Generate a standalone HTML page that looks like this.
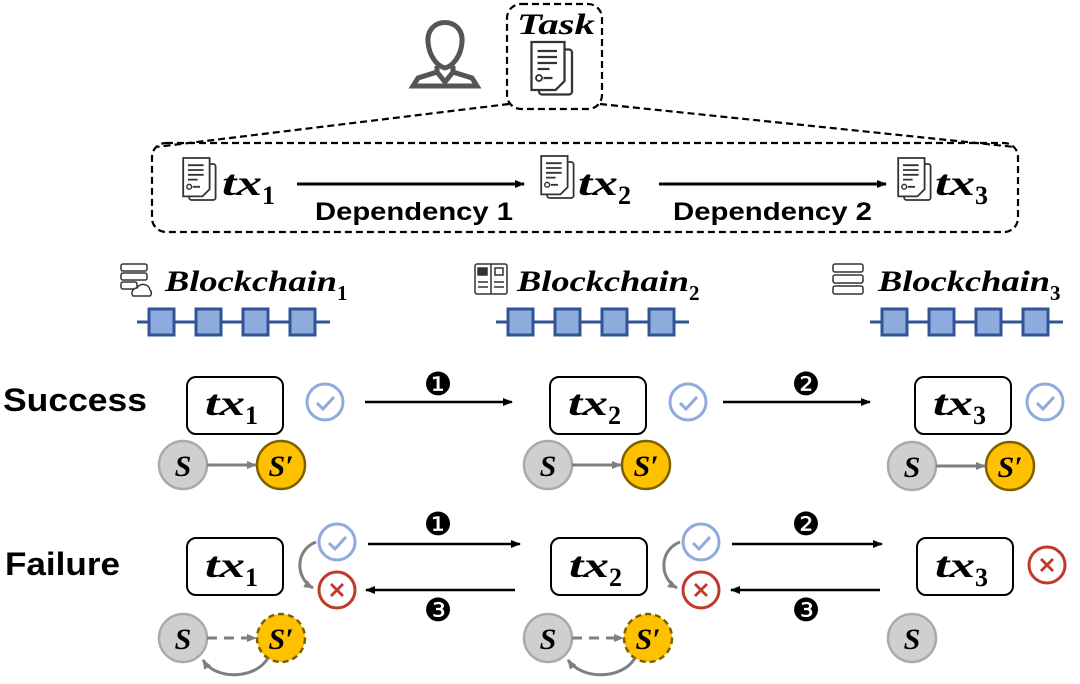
<!DOCTYPE html>
<html><head><meta charset="utf-8"><style>
html,body{margin:0;padding:0;background:#fff;}
svg{display:block;}
.m{font-family:"Liberation Serif",serif;font-style:italic;font-weight:bold;}
.n{font-style:normal;}
.s{font-family:"Liberation Sans",sans-serif;font-weight:bold;}
</style></head><body>
<svg width="1080" height="684" viewBox="0 0 1080 684" xmlns="http://www.w3.org/2000/svg">
<defs>
<marker id="ab" markerWidth="10" markerHeight="8" refX="9" refY="4" orient="auto" markerUnits="userSpaceOnUse"><path d="M0,0 L10,4 L0,8 Z" fill="#000"/></marker>
<marker id="ag" markerWidth="10" markerHeight="8" refX="9" refY="4" orient="auto" markerUnits="userSpaceOnUse"><path d="M0,0 L10,4 L0,8 Z" fill="#7f7f7f"/></marker>
<g id="doc">
<rect x="6" y="5" width="22" height="30" rx="2" fill="#fff" stroke="#333" stroke-width="1.5"/>
<path d="M1,0 h22 v26 l-6,6 h-16 z" fill="#fff" stroke="#333" stroke-width="1.5"/>
<path d="M5,6 h13 M5,10 h13 M5,14 h13 M5,18 h8 M9,24 h6" stroke="#333" stroke-width="1.5"/>
<circle cx="6" cy="24" r="2" fill="none" stroke="#333" stroke-width="1.2"/>
</g>
<g id="chain">
<line x1="0" y1="0" x2="193" y2="0" stroke="#2f5597" stroke-width="3"/>
<rect x="12" y="-13" width="25" height="26" fill="#8faadc" stroke="#2f5597" stroke-width="3"/>
<rect x="59" y="-13" width="25" height="26" fill="#8faadc" stroke="#2f5597" stroke-width="3"/>
<rect x="106" y="-13" width="25" height="26" fill="#8faadc" stroke="#2f5597" stroke-width="3"/>
<rect x="153" y="-13" width="25" height="26" fill="#8faadc" stroke="#2f5597" stroke-width="3"/>
</g>
<g id="chk"><circle r="18" fill="#fff" stroke="#8faadc" stroke-width="3"/><path d="M-8,1 L-2,7 L9,-5" fill="none" stroke="#8faadc" stroke-width="3"/></g>
<g id="crs"><circle r="18" fill="#fff" stroke="#c0392b" stroke-width="3"/><path d="M-6,-6 L6,6 M6,-6 L-6,6" stroke="#c0392b" stroke-width="2.8"/></g>
</defs>

<!-- person -->
<g fill="none" stroke="#555" stroke-width="5">
<path d="M428,42 C426,16 464,16 462,42 C461,56 453,66 445,68 C437,66 429,56 428,42 Z"/>
<path d="M437,66 L437,72 L418,78 L413,86 L477,86 L472,78 L453,72 L453,66"/>
<path d="M437,72 L445,82 L453,72"/>
</g>
<!-- task box -->
<rect x="507" y="4" width="95" height="105" rx="14" fill="none" stroke="#000" stroke-width="2.2" stroke-dasharray="7,4"/>
<text x="517" y="34" class="m" font-size="30" textLength="78" lengthAdjust="spacingAndGlyphs">Task</text>
<g transform="translate(530,42) scale(1.5)"><use href="#doc"/></g>
<path d="M509,104 L156,147 M600,104 L1015,147" stroke="#000" stroke-width="2.2" stroke-dasharray="7,4"/>
<rect x="152" y="143" width="866" height="89" rx="14" fill="none" stroke="#000" stroke-width="2.2" stroke-dasharray="7,4"/>

<g transform="translate(182,158) scale(1.2)"><use href="#doc"/></g>
<text x="222" y="195" class="m" font-size="36"><tspan textLength="40" lengthAdjust="spacingAndGlyphs">tx</tspan><tspan class="n" font-size="26" dy="9">1</tspan></text>
<line x1="297" y1="184" x2="524" y2="184" stroke="#000" stroke-width="3" marker-end="url(#ab)"/>
<text x="315" y="220" class="s" font-size="25" textLength="198" lengthAdjust="spacingAndGlyphs">Dependency 1</text>
<g transform="translate(540,156) scale(1.2)"><use href="#doc"/></g>
<text x="578" y="195" class="m" font-size="36"><tspan textLength="40" lengthAdjust="spacingAndGlyphs">tx</tspan><tspan class="n" font-size="26" dy="9">2</tspan></text>
<line x1="659" y1="184" x2="886" y2="184" stroke="#000" stroke-width="3" marker-end="url(#ab)"/>
<text x="673" y="220" class="s" font-size="25" textLength="199" lengthAdjust="spacingAndGlyphs">Dependency 2</text>
<g transform="translate(897,158) scale(1.2)"><use href="#doc"/></g>
<text x="935" y="195" class="m" font-size="36"><tspan textLength="40" lengthAdjust="spacingAndGlyphs">tx</tspan><tspan class="n" font-size="26" dy="9">3</tspan></text>

<!-- blockchains -->
<g stroke="#333" stroke-width="1.5" fill="#fff">
<rect x="121" y="264" width="26" height="7" rx="2"/><rect x="121" y="273" width="26" height="7" rx="2"/><rect x="121" y="282" width="16" height="7" rx="2"/>
<path d="M133,296 a5,5 0 0 1 4,-8 a7,7 0 0 1 13,2 a4,4 0 0 1 0,6 z"/>
<rect x="475" y="264" width="32" height="30" rx="2"/><line x1="491" y1="264" x2="491" y2="294"/>
<rect x="478" y="268" width="9" height="7" fill="#333"/><rect x="495" y="268" width="8" height="7"/>
<path d="M478,282 h10 M478,287 h10 M494,282 h10 M494,287 h10"/>
<rect x="833" y="264" width="30" height="8" rx="2"/><rect x="833" y="275" width="30" height="8" rx="2"/><rect x="833" y="286" width="30" height="8" rx="2"/>
</g>
<text x="165" y="291" class="m" font-size="30"><tspan textLength="172" lengthAdjust="spacingAndGlyphs">Blockchain</tspan><tspan class="n" font-size="21" dy="9">1</tspan></text>
<text x="517" y="291" class="m" font-size="30"><tspan textLength="172" lengthAdjust="spacingAndGlyphs">Blockchain</tspan><tspan class="n" font-size="21" dy="9">2</tspan></text>
<text x="878" y="291" class="m" font-size="30"><tspan textLength="172" lengthAdjust="spacingAndGlyphs">Blockchain</tspan><tspan class="n" font-size="21" dy="9">3</tspan></text>
<use href="#chain" transform="translate(137,322)"/>
<use href="#chain" transform="translate(496,322)"/>
<use href="#chain" transform="translate(870,322)"/>

<!-- Success -->
<text x="3" y="411" class="s" font-size="32" textLength="144" lengthAdjust="spacingAndGlyphs">Success</text>
<g class="m" font-size="36">
<rect x="187" y="377" width="96" height="57" rx="9" fill="#fff" stroke="#000" stroke-width="2"/>
<text x="205" y="415"><tspan textLength="40" lengthAdjust="spacingAndGlyphs">tx</tspan><tspan class="n" font-size="26" dy="9">1</tspan></text>
<rect x="550" y="377" width="96" height="57" rx="9" fill="#fff" stroke="#000" stroke-width="2"/>
<text x="568" y="415"><tspan textLength="40" lengthAdjust="spacingAndGlyphs">tx</tspan><tspan class="n" font-size="26" dy="9">2</tspan></text>
<rect x="915" y="377" width="96" height="57" rx="9" fill="#fff" stroke="#000" stroke-width="2"/>
<text x="933" y="415"><tspan textLength="40" lengthAdjust="spacingAndGlyphs">tx</tspan><tspan class="n" font-size="26" dy="9">3</tspan></text>
</g>
<use href="#chk" transform="translate(325,402)"/>
<use href="#chk" transform="translate(688,402)"/>
<use href="#chk" transform="translate(1045,402)"/>
<line x1="365" y1="402" x2="512" y2="402" stroke="#000" stroke-width="2.5" marker-end="url(#ab)"/>
<line x1="723" y1="402" x2="870" y2="402" stroke="#000" stroke-width="2.5" marker-end="url(#ab)"/>
<g font-family="DejaVu Sans,sans-serif" font-size="32" text-anchor="middle">
<text x="438" y="395">❶</text><text x="806" y="395">❷</text>
</g>

<g class="m" font-size="30" text-anchor="middle">
<g>
<circle cx="183" cy="465" r="24" fill="#d0cece" stroke="#aaa" stroke-width="2.5"/>
<circle cx="281" cy="465" r="24" fill="#ffc000" stroke="#7f6000" stroke-width="2.5"/>
<line x1="207" y1="465" x2="256" y2="465" stroke="#7f7f7f" stroke-width="3" marker-end="url(#ag)"/>
<text x="183" y="476">S</text><text x="281" y="476">S′</text>
</g>
<g>
<circle cx="548" cy="465" r="24" fill="#d0cece" stroke="#aaa" stroke-width="2.5"/>
<circle cx="646" cy="465" r="24" fill="#ffc000" stroke="#7f6000" stroke-width="2.5"/>
<line x1="572" y1="465" x2="621" y2="465" stroke="#7f7f7f" stroke-width="3" marker-end="url(#ag)"/>
<text x="548" y="476">S</text><text x="646" y="476">S′</text>
</g>
<g>
<circle cx="912" cy="466" r="24" fill="#d0cece" stroke="#aaa" stroke-width="2.5"/>
<circle cx="1010" cy="466" r="24" fill="#ffc000" stroke="#7f6000" stroke-width="2.5"/>
<line x1="936" y1="466" x2="985" y2="466" stroke="#7f7f7f" stroke-width="3" marker-end="url(#ag)"/>
<text x="912" y="477">S</text><text x="1010" y="477">S′</text>
</g>
<g>
<circle cx="183" cy="638" r="24" fill="#d0cece" stroke="#aaa" stroke-width="2.5"/>
<circle cx="281" cy="638" r="24" fill="#ffc000" stroke="#7f6000" stroke-width="2.5" stroke-dasharray="6,4"/>
<line x1="207" y1="638" x2="256" y2="638" stroke="#7f7f7f" stroke-width="3" stroke-dasharray="10,7" marker-end="url(#ag)"/>
<path d="M268,658 C255,680 215,680 203,660" fill="none" stroke="#7f7f7f" stroke-width="3" marker-end="url(#ag)"/>
<text x="183" y="649">S</text><text x="281" y="649">S′</text>
</g>
<g>
<circle cx="548" cy="638" r="24" fill="#d0cece" stroke="#aaa" stroke-width="2.5"/>
<circle cx="648" cy="638" r="24" fill="#ffc000" stroke="#7f6000" stroke-width="2.5" stroke-dasharray="6,4"/>
<line x1="572" y1="638" x2="623" y2="638" stroke="#7f7f7f" stroke-width="3" stroke-dasharray="10,7" marker-end="url(#ag)"/>
<path d="M635,658 C622,680 582,680 568,660" fill="none" stroke="#7f7f7f" stroke-width="3" marker-end="url(#ag)"/>
<text x="548" y="649">S</text><text x="648" y="649">S′</text>
</g>
<circle cx="912" cy="638" r="24" fill="#d0cece" stroke="#aaa" stroke-width="2.5"/>
<text x="912" y="649">S</text>
</g>

<!-- Failure -->
<text x="5" y="575" class="s" font-size="32" textLength="115" lengthAdjust="spacingAndGlyphs">Failure</text>
<g class="m" font-size="36">
<rect x="187" y="538" width="96" height="57" rx="9" fill="#fff" stroke="#000" stroke-width="2"/>
<text x="205" y="577"><tspan textLength="40" lengthAdjust="spacingAndGlyphs">tx</tspan><tspan class="n" font-size="26" dy="9">1</tspan></text>
<rect x="551" y="538" width="96" height="57" rx="9" fill="#fff" stroke="#000" stroke-width="2"/>
<text x="569" y="577"><tspan textLength="40" lengthAdjust="spacingAndGlyphs">tx</tspan><tspan class="n" font-size="26" dy="9">2</tspan></text>
<rect x="917" y="538" width="96" height="57" rx="9" fill="#fff" stroke="#000" stroke-width="2"/>
<text x="935" y="577"><tspan textLength="40" lengthAdjust="spacingAndGlyphs">tx</tspan><tspan class="n" font-size="26" dy="9">3</tspan></text>
</g>
<path d="M316,542 C295,550 295,578 313,588" fill="none" stroke="#7f7f7f" stroke-width="3" marker-end="url(#ag)"/>
<path d="M680,542 C659,550 659,578 677,588" fill="none" stroke="#7f7f7f" stroke-width="3" marker-end="url(#ag)"/>
<use href="#chk" transform="translate(337,542)"/>
<use href="#crs" transform="translate(337,590)"/>
<use href="#chk" transform="translate(701,542)"/>
<use href="#crs" transform="translate(701,590)"/>
<use href="#crs" transform="translate(1047,565)"/>
<line x1="368" y1="544" x2="520" y2="544" stroke="#000" stroke-width="2.5" marker-end="url(#ab)"/>
<line x1="515" y1="590" x2="366" y2="590" stroke="#000" stroke-width="2.5" marker-end="url(#ab)"/>
<line x1="732" y1="544" x2="882" y2="544" stroke="#000" stroke-width="2.5" marker-end="url(#ab)"/>
<line x1="880" y1="590" x2="731" y2="590" stroke="#000" stroke-width="2.5" marker-end="url(#ab)"/>
<g font-family="DejaVu Sans,sans-serif" font-size="32" text-anchor="middle">
<text x="438" y="535">❶</text><text x="438" y="621">❸</text>
<text x="806" y="535">❷</text><text x="806" y="621">❸</text>
</g>
</svg>
</body></html>
